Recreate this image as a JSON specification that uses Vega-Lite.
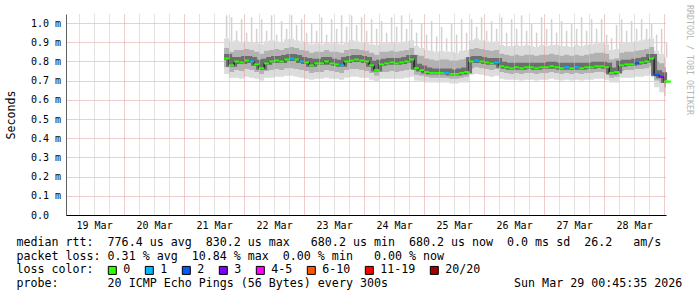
{
"$schema": "https://vega.github.io/schema/vega-lite/v6.json",
"width": 600, "height": 201,
"autosize": {"type": "none"},
"padding": {"left": 66, "top": 14, "right": 31, "bottom": 82},
"background": "#ffffff",
"config": {
 "view": {"stroke": null},
 "font": "DejaVu Sans Mono",
 "axis": {"labelFont": "DejaVu Sans Mono", "titleFont": "DejaVu Sans Mono", "labelColor": "#000", "titleColor": "#000", "titleFontWeight": "normal"},
 "axisY": {"tickCount": 10, "labelExpr": "datum.value == 0 ? '0.0' : format(datum.value, '.1f') + ' m'", "labelFontSize": 10, "labelAlign": "left", "labelPadding": 35.5, "ticks": false, "domainColor": "#606060", "gridColor": "#e09a9a", "gridDash": [1, 1], "titleFontSize": 11.65, "titleAngle": 270, "titleX": -52, "titleY": 100.5, "titleBaseline": "alphabetic", "titleAlign": "center", "zindex": 1, "labelBaseline": "middle"}
},
"title": {"text": "RRDTOOL / TOBI OETIKER", "orient": "right", "anchor": "start", "frame": "group", "fontSize": 8.3, "font": "DejaVu Sans Mono", "fontWeight": "normal", "color": "#b4b4b4", "offset": -3, "baseline": "alphabetic", "dx": -9, "angle": 90},
"data": {"values": [
{"t":"2026-03-21T16:00","m":0.815,"lo":0.735,"a":0.77,"b":0.87,"hi":0.92,"mx":1.04,"l":"0"},
{"t":"2026-03-21T18:00","m":0.78,"lo":0.715,"a":0.745,"b":0.85,"hi":0.905,"mx":1.03,"l":"0"},
{"t":"2026-03-21T20:00","m":0.80,"lo":0.715,"a":0.755,"b":0.86,"hi":0.91,"mx":0.96,"l":"0"},
{"t":"2026-03-21T22:00","m":0.795,"lo":0.71,"a":0.75,"b":0.86,"hi":0.90,"mx":1.02,"l":"0"},
{"t":"2026-03-22T00:00","m":0.805,"lo":0.72,"a":0.76,"b":0.865,"hi":0.905,"mx":0.95,"l":"0"},
{"t":"2026-03-22T02:00","m":0.80,"lo":0.715,"a":0.755,"b":0.86,"hi":0.90,"mx":1.03,"l":"1"},
{"t":"2026-03-22T04:00","m":0.785,"lo":0.71,"a":0.745,"b":0.85,"hi":0.895,"mx":0.97,"l":"0"},
{"t":"2026-03-22T06:00","m":0.765,"lo":0.70,"a":0.735,"b":0.84,"hi":0.89,"mx":1.02,"l":"0"},
{"t":"2026-03-22T08:00","m":0.79,"lo":0.715,"a":0.75,"b":0.855,"hi":0.905,"mx":0.96,"l":"0"},
{"t":"2026-03-22T10:00","m":0.80,"lo":0.715,"a":0.755,"b":0.86,"hi":0.91,"mx":1.04,"l":"0"},
{"t":"2026-03-22T12:00","m":0.805,"lo":0.72,"a":0.76,"b":0.865,"hi":0.905,"mx":0.94,"l":"0"},
{"t":"2026-03-22T14:00","m":0.80,"lo":0.72,"a":0.755,"b":0.86,"hi":0.90,"mx":1.01,"l":"0"},
{"t":"2026-03-22T16:00","m":0.81,"lo":0.725,"a":0.765,"b":0.87,"hi":0.915,"mx":0.97,"l":"0"},
{"t":"2026-03-22T18:00","m":0.815,"lo":0.725,"a":0.765,"b":0.875,"hi":0.92,"mx":1.04,"l":"1"},
{"t":"2026-03-22T20:00","m":0.81,"lo":0.72,"a":0.76,"b":0.87,"hi":0.91,"mx":0.99,"l":"0"},
{"t":"2026-03-22T22:00","m":0.80,"lo":0.715,"a":0.755,"b":0.86,"hi":0.905,"mx":1.02,"l":"1"},
{"t":"2026-03-23T00:00","m":0.795,"lo":0.71,"a":0.75,"b":0.855,"hi":0.90,"mx":0.95,"l":"0"},
{"t":"2026-03-23T02:00","m":0.78,"lo":0.705,"a":0.74,"b":0.845,"hi":0.89,"mx":1.00,"l":"0"},
{"t":"2026-03-23T04:00","m":0.79,"lo":0.71,"a":0.745,"b":0.85,"hi":0.895,"mx":0.96,"l":"0"},
{"t":"2026-03-23T06:00","m":0.79,"lo":0.71,"a":0.745,"b":0.85,"hi":0.89,"mx":1.03,"l":"0"},
{"t":"2026-03-23T08:00","m":0.80,"lo":0.715,"a":0.755,"b":0.86,"hi":0.90,"mx":0.94,"l":"0"},
{"t":"2026-03-23T10:00","m":0.79,"lo":0.71,"a":0.75,"b":0.85,"hi":0.895,"mx":1.02,"l":"0"},
{"t":"2026-03-23T12:00","m":0.785,"lo":0.71,"a":0.745,"b":0.85,"hi":0.895,"mx":0.97,"l":"0"},
{"t":"2026-03-23T14:00","m":0.78,"lo":0.705,"a":0.74,"b":0.845,"hi":0.89,"mx":1.04,"l":"1"},
{"t":"2026-03-23T16:00","m":0.80,"lo":0.715,"a":0.755,"b":0.86,"hi":0.90,"mx":0.98,"l":"0"},
{"t":"2026-03-23T18:00","m":0.805,"lo":0.72,"a":0.76,"b":0.865,"hi":0.91,"mx":1.04,"l":"0"},
{"t":"2026-03-23T20:00","m":0.81,"lo":0.72,"a":0.76,"b":0.865,"hi":0.905,"mx":0.99,"l":"0"},
{"t":"2026-03-23T22:00","m":0.805,"lo":0.715,"a":0.755,"b":0.86,"hi":0.90,"mx":1.03,"l":"0"},
{"t":"2026-03-24T00:00","m":0.80,"lo":0.715,"a":0.75,"b":0.855,"hi":0.90,"mx":0.96,"l":"0"},
{"t":"2026-03-24T02:00","m":0.78,"lo":0.705,"a":0.74,"b":0.845,"hi":0.89,"mx":1.02,"l":"0"},
{"t":"2026-03-24T04:00","m":0.755,"lo":0.695,"a":0.725,"b":0.835,"hi":0.885,"mx":0.97,"l":"0"},
{"t":"2026-03-24T06:00","m":0.785,"lo":0.71,"a":0.745,"b":0.85,"hi":0.895,"mx":1.01,"l":"0"},
{"t":"2026-03-24T08:00","m":0.79,"lo":0.71,"a":0.745,"b":0.85,"hi":0.895,"mx":0.95,"l":"0"},
{"t":"2026-03-24T10:00","m":0.795,"lo":0.71,"a":0.75,"b":0.855,"hi":0.90,"mx":1.03,"l":"0"},
{"t":"2026-03-24T12:00","m":0.79,"lo":0.71,"a":0.745,"b":0.85,"hi":0.895,"mx":0.98,"l":"0"},
{"t":"2026-03-24T14:00","m":0.795,"lo":0.71,"a":0.75,"b":0.855,"hi":0.90,"mx":1.04,"l":"0"},
{"t":"2026-03-24T16:00","m":0.80,"lo":0.715,"a":0.755,"b":0.86,"hi":0.905,"mx":0.97,"l":"0"},
{"t":"2026-03-24T18:00","m":0.81,"lo":0.72,"a":0.76,"b":0.87,"hi":0.91,"mx":1.02,"l":"0"},
{"t":"2026-03-24T20:00","m":0.765,"lo":0.70,"a":0.73,"b":0.835,"hi":0.88,"mx":0.95,"l":"0"},
{"t":"2026-03-24T22:00","m":0.755,"lo":0.695,"a":0.725,"b":0.83,"hi":0.87,"mx":1.00,"l":"0"},
{"t":"2026-03-25T00:00","m":0.745,"lo":0.69,"a":0.72,"b":0.815,"hi":0.86,"mx":0.94,"l":"0"},
{"t":"2026-03-25T02:00","m":0.74,"lo":0.69,"a":0.715,"b":0.81,"hi":0.855,"mx":1.01,"l":"0"},
{"t":"2026-03-25T04:00","m":0.74,"lo":0.69,"a":0.715,"b":0.805,"hi":0.85,"mx":0.93,"l":"0"},
{"t":"2026-03-25T06:00","m":0.74,"lo":0.69,"a":0.715,"b":0.81,"hi":0.855,"mx":0.98,"l":"0"},
{"t":"2026-03-25T08:00","m":0.74,"lo":0.69,"a":0.715,"b":0.81,"hi":0.85,"mx":0.92,"l":"1"},
{"t":"2026-03-25T10:00","m":0.735,"lo":0.685,"a":0.71,"b":0.805,"hi":0.85,"mx":1.00,"l":"0"},
{"t":"2026-03-25T12:00","m":0.735,"lo":0.685,"a":0.71,"b":0.805,"hi":0.845,"mx":0.94,"l":"0"},
{"t":"2026-03-25T14:00","m":0.74,"lo":0.69,"a":0.715,"b":0.81,"hi":0.855,"mx":1.02,"l":"0"},
{"t":"2026-03-25T16:00","m":0.745,"lo":0.69,"a":0.72,"b":0.815,"hi":0.86,"mx":0.95,"l":"0"},
{"t":"2026-03-25T18:00","m":0.80,"lo":0.73,"a":0.765,"b":0.865,"hi":0.91,"mx":1.02,"l":"0"},
{"t":"2026-03-25T20:00","m":0.805,"lo":0.735,"a":0.77,"b":0.87,"hi":0.92,"mx":0.98,"l":"1"},
{"t":"2026-03-25T22:00","m":0.80,"lo":0.73,"a":0.765,"b":0.865,"hi":0.91,"mx":1.03,"l":"0"},
{"t":"2026-03-26T00:00","m":0.795,"lo":0.725,"a":0.76,"b":0.86,"hi":0.905,"mx":0.96,"l":"0"},
{"t":"2026-03-26T02:00","m":0.79,"lo":0.72,"a":0.755,"b":0.855,"hi":0.90,"mx":1.01,"l":"0"},
{"t":"2026-03-26T04:00","m":0.795,"lo":0.725,"a":0.76,"b":0.86,"hi":0.905,"mx":0.97,"l":"1"},
{"t":"2026-03-26T06:00","m":0.775,"lo":0.71,"a":0.745,"b":0.84,"hi":0.885,"mx":1.03,"l":"0"},
{"t":"2026-03-26T08:00","m":0.77,"lo":0.705,"a":0.74,"b":0.835,"hi":0.88,"mx":0.95,"l":"0"},
{"t":"2026-03-26T10:00","m":0.765,"lo":0.705,"a":0.735,"b":0.83,"hi":0.88,"mx":1.02,"l":"0"},
{"t":"2026-03-26T12:00","m":0.77,"lo":0.705,"a":0.74,"b":0.835,"hi":0.885,"mx":0.97,"l":"0"},
{"t":"2026-03-26T14:00","m":0.765,"lo":0.70,"a":0.735,"b":0.83,"hi":0.88,"mx":1.04,"l":"0"},
{"t":"2026-03-26T16:00","m":0.77,"lo":0.705,"a":0.74,"b":0.835,"hi":0.885,"mx":0.96,"l":"0"},
{"t":"2026-03-26T18:00","m":0.77,"lo":0.705,"a":0.74,"b":0.835,"hi":0.88,"mx":1.00,"l":"0"},
{"t":"2026-03-26T20:00","m":0.765,"lo":0.70,"a":0.735,"b":0.83,"hi":0.875,"mx":0.95,"l":"0"},
{"t":"2026-03-26T22:00","m":0.77,"lo":0.705,"a":0.74,"b":0.835,"hi":0.885,"mx":1.03,"l":"0"},
{"t":"2026-03-27T00:00","m":0.77,"lo":0.705,"a":0.74,"b":0.835,"hi":0.88,"mx":0.97,"l":"0"},
{"t":"2026-03-27T02:00","m":0.775,"lo":0.71,"a":0.745,"b":0.84,"hi":0.885,"mx":1.02,"l":"0"},
{"t":"2026-03-27T04:00","m":0.77,"lo":0.705,"a":0.74,"b":0.835,"hi":0.885,"mx":0.95,"l":"0"},
{"t":"2026-03-27T06:00","m":0.765,"lo":0.70,"a":0.735,"b":0.83,"hi":0.88,"mx":1.01,"l":"0"},
{"t":"2026-03-27T08:00","m":0.77,"lo":0.705,"a":0.74,"b":0.835,"hi":0.88,"mx":0.96,"l":"1"},
{"t":"2026-03-27T10:00","m":0.765,"lo":0.70,"a":0.735,"b":0.83,"hi":0.875,"mx":1.00,"l":"0"},
{"t":"2026-03-27T12:00","m":0.77,"lo":0.705,"a":0.74,"b":0.835,"hi":0.885,"mx":0.97,"l":"1"},
{"t":"2026-03-27T14:00","m":0.765,"lo":0.70,"a":0.735,"b":0.83,"hi":0.88,"mx":1.03,"l":"0"},
{"t":"2026-03-27T16:00","m":0.77,"lo":0.705,"a":0.74,"b":0.835,"hi":0.885,"mx":0.96,"l":"0"},
{"t":"2026-03-27T18:00","m":0.77,"lo":0.705,"a":0.74,"b":0.84,"hi":0.89,"mx":1.02,"l":"0"},
{"t":"2026-03-27T20:00","m":0.775,"lo":0.71,"a":0.745,"b":0.845,"hi":0.895,"mx":0.97,"l":"0"},
{"t":"2026-03-27T22:00","m":0.775,"lo":0.71,"a":0.745,"b":0.845,"hi":0.90,"mx":1.02,"l":"0"},
{"t":"2026-03-28T00:00","m":0.77,"lo":0.705,"a":0.74,"b":0.84,"hi":0.89,"mx":0.94,"l":"0"},
{"t":"2026-03-28T02:00","m":0.74,"lo":0.69,"a":0.715,"b":0.81,"hi":0.86,"mx":0.92,"l":"0"},
{"t":"2026-03-28T04:00","m":0.745,"lo":0.69,"a":0.72,"b":0.815,"hi":0.865,"mx":0.99,"l":"0"},
{"t":"2026-03-28T06:00","m":0.78,"lo":0.715,"a":0.75,"b":0.845,"hi":0.895,"mx":1.02,"l":"0"},
{"t":"2026-03-28T08:00","m":0.785,"lo":0.715,"a":0.755,"b":0.85,"hi":0.90,"mx":0.96,"l":"0"},
{"t":"2026-03-28T10:00","m":0.785,"lo":0.715,"a":0.755,"b":0.85,"hi":0.90,"mx":1.01,"l":"0"},
{"t":"2026-03-28T12:00","m":0.79,"lo":0.72,"a":0.76,"b":0.855,"hi":0.905,"mx":0.97,"l":"2"},
{"t":"2026-03-28T14:00","m":0.795,"lo":0.72,"a":0.76,"b":0.86,"hi":0.91,"mx":1.02,"l":"0"},
{"t":"2026-03-28T16:00","m":0.80,"lo":0.725,"a":0.765,"b":0.865,"hi":0.915,"mx":0.97,"l":"0"},
{"t":"2026-03-28T18:00","m":0.815,"lo":0.73,"a":0.775,"b":0.875,"hi":0.92,"mx":1.00,"l":"0"},
{"t":"2026-03-28T20:00","m":0.73,"lo":0.665,"a":0.70,"b":0.80,"hi":0.855,"mx":0.94,"l":"2"},
{"t":"2026-03-28T22:00","m":0.72,"lo":0.64,"a":0.69,"b":0.79,"hi":0.84,"mx":0.97,"l":"3"},
{"t":"2026-03-29T00:00","m":0.695,"lo":0.62,"a":0.665,"b":0.77,"hi":0.82,"mx":0.90,"l":"0"},
{"t":"2026-03-29T00:45:35","m":0.695,"lo":0.62,"a":0.665,"b":0.77,"hi":0.82,"mx":0.82,"l":"0"}
]},
"encoding": {
 "x": {"field": "t", "type": "temporal",
  "scale": {"domain": [{"year": 2026, "month": 3, "date": 19, "hours": 0, "minutes": 45, "seconds": 35}, {"year": 2026, "month": 3, "date": 29, "hours": 0, "minutes": 45, "seconds": 35}]},
  "axis": {
   "title": ["median rtt:\u00a0\u00a0776.4\u00a0us\u00a0avg\u00a0\u00a0830.2\u00a0us\u00a0max\u00a0\u00a0\u00a0680.2\u00a0us\u00a0min\u00a0\u00a0680.2\u00a0us\u00a0now\u00a0\u00a00.0\u00a0ms\u00a0sd\u00a0\u00a026.2\u00a0\u00a0\u00a0am/s",
            "packet\u00a0loss:\u00a00.31\u00a0%\u00a0avg\u00a0\u00a010.84\u00a0%\u00a0max\u00a0\u00a00.00\u00a0%\u00a0min\u00a0\u00a0\u00a00.00\u00a0%\u00a0now",
            "loss\u00a0color:",
            "probe:\u00a0\u00a0\u00a0\u00a0\u00a0\u00a0\u00a020\u00a0ICMP\u00a0Echo\u00a0Pings\u00a0(56\u00a0Bytes)\u00a0every\u00a0300s\u00a0\u00a0\u00a0\u00a0\u00a0\u00a0\u00a0\u00a0\u00a0\u00a0\u00a0\u00a0\u00a0\u00a0\u00a0\u00a0\u00a0\u00a0Sun\u00a0Mar\u00a029\u00a000:45:35\u00a02026"],
   "tickCount": 40,
   "labelExpr": "hours(datum.value) == 12 ? timeFormat(datum.value, '%d %b') : ''",
   "labelFontSize": 10, "labelPadding": 5, "ticks": false, "labelOverlap": false, "labelFlush": false, "labelBound": false,
   "domainColor": "#000",
   "gridColor": {"condition": {"test": "hours(datum.value) == 0", "value": "#e09a9a"}, "value": "#c4c4c4"},
   "gridDash": [1, 1],
   "titleFontSize": 11.65, "titleLineHeight": 13.7, "titleX": -50, "titleY": 30.5, "titleAlign": "left", "titleAnchor": "start", "titleBaseline": "alphabetic",
   "zindex": 1
  }
 }
},
"layer": [
 {"mark": {"type": "rule", "color": "#d2d2d2", "strokeWidth": 1.5, "xOffset": 2.5},
  "encoding": {"y": {"field": "hi", "type": "quantitative", "title": "Seconds", "scale": {"domain": [0, 1.047], "nice": false}}, "y2": {"field": "mx"}}},
 {"mark": {"type": "area", "interpolate": "step-after", "color": "#dcdcdc"},
  "encoding": {"y": {"field": "lo", "type": "quantitative", "title": "Seconds", "scale": {"domain": [0, 1.047], "nice": false}}, "y2": {"field": "hi"}}},
 {"mark": {"type": "area", "interpolate": "step-after", "color": "#b2b2b2"},
  "encoding": {"y": {"field": "a", "type": "quantitative", "title": "Seconds", "scale": {"domain": [0, 1.047], "nice": false}}, "y2": {"field": "b"}}},
 {"mark": {"type": "line", "interpolate": "step-after", "color": "#6e6e6e", "strokeWidth": 6, "yOffset": -1.5},
  "encoding": {"y": {"field": "m", "type": "quantitative", "title": "Seconds", "scale": {"domain": [0, 1.047], "nice": false}}}},
 {"mark": {"type": "line", "interpolate": "step-after", "color": "#000000", "strokeWidth": 1},
  "encoding": {"y": {"field": "m", "type": "quantitative", "title": "Seconds", "scale": {"domain": [0, 1.047], "nice": false}}}},
 {"mark": {"type": "tick", "orient": "horizontal", "size": 5, "thickness": 2, "xOffset": 2.5, "opacity": 1},
  "encoding": {"y": {"field": "m", "type": "quantitative", "title": "Seconds", "scale": {"domain": [0, 1.047], "nice": false}},
   "color": {"field": "l", "type": "nominal",
    "scale": {"domain": ["0", "1", "2", "3", "4-5", "6-10", "11-19", "20/20"], "range": ["#26ff00", "#00b8ff", "#0059ff", "#7e00ff", "#ff00ff", "#ff5500", "#ff0000", "#a00000"]},
    "legend": {"orient": "none", "legendX": 40.5, "legendY": 250.5, "direction": "horizontal", "title": null, "symbolType": "square", "symbolSize": 64, "symbolStrokeColor": "#000", "symbolStrokeWidth": 1, "symbolOpacity": 1, "labelFont": "DejaVu Sans Mono", "labelFontSize": 11.65, "labelColor": "#000", "labelOffset": 5, "columnPadding": 12, "labelBaseline": "middle"}}}}
]
}
